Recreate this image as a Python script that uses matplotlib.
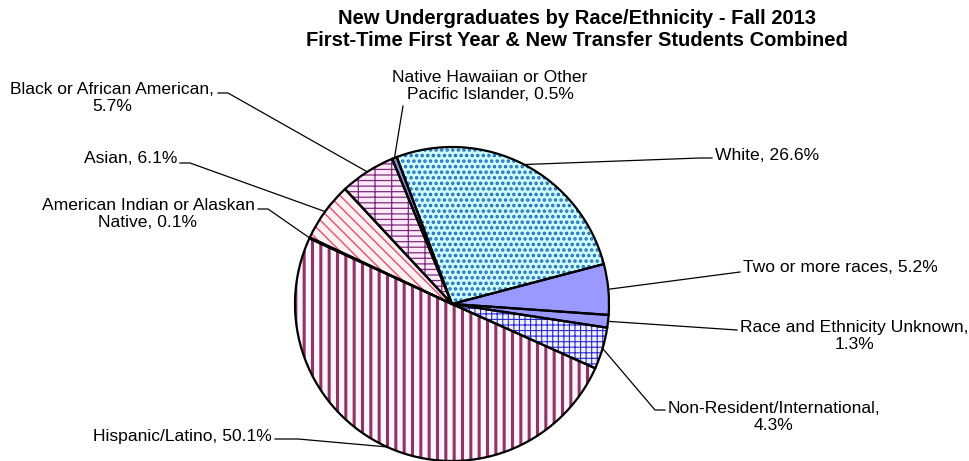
import numpy as np
import matplotlib.pyplot as plt

plt.rcParams['font.family'] = ['Liberation Sans', 'DejaVu Sans']
plt.rcParams['hatch.linewidth'] = 1.0

# data (clockwise from the top-left edge of the "White" slice)
groups = ['White', 'Two or more races', 'Race and Ethnicity Unknown',
          'Non-Resident/International', 'Hispanic/Latino',
          'American Indian or Alaskan Native', 'Asian',
          'Black or African American', 'Native Hawaiian or Other Pacific Islander']
pct = [26.6, 5.2, 1.3, 4.3, 50.1, 0.1, 6.1, 5.7, 0.5]
labels = ['White, 26.6%', 'Two or more races, 5.2%', 'Race and Ethnicity Unknown,\n1.3%',
          'Non-Resident/International,\n4.3%', 'Hispanic/Latino, 50.1%',
          'American Indian or Alaskan\nNative, 0.1%', 'Asian, 6.1%',
          'Black or African American,\n5.7%', 'Native Hawaiian or Other\nPacific Islander, 0.5%']

# styles
faces = ['#CCFFFF', '#9999FF', '#9999FF', '#F0F0FF', '#FFF4FA', '#FF9999', '#FFF0F2', '#FFE8FA', '#8888CC']
hcolors = ['#2468B8', '#9999FF', '#9999FF', '#2B2BCC', '#8E3565', '#FF9999', '#E0507A', '#7A2E7A', '#8888CC']
hatches = ['...', '', '', '+++', '||', '', '\\\\\\', '---|', '']
hlw = [1.7, 1.0, 1.0, 0.8, 2.2, 1.0, 1.0, 0.9, 1.0]

# label layout in pixels: text x, text y, ha, leader points from the text side
layout = [
    (715, 156, 'left', [(712, 158), (700, 158)]),
    (743, 268, 'left', [(740, 272)]),
    (854, 336, 'center', [(737, 330)]),
    (774, 417, 'center', [(665, 410), (655, 410)]),
    (272, 437, 'right', [(275, 439), (298, 439)]),
    (148, 214, 'center', [(258, 209), (268, 209)]),
    (177, 159, 'right', [(180, 163), (190, 163)]),
    (112, 98, 'center', [(218, 93), (228, 93)]),
    (490, 86, 'center', [(403, 106)]),
]

W, H = 970, 461
cx, cy, R = 452, 304, 157


def px(x, y):
    return (x - cx) / R, (cy - y) / R


fig = plt.figure(figsize=(9.7, 4.61), dpi=100)
ax = fig.add_axes([0, 0, 1, 1])

wedges, _ = ax.pie(pct, startangle=110.6, counterclock=False, radius=1,
                   colors=faces, wedgeprops=dict(linewidth=0))
for w, hc, ht, lw in zip(wedges, hcolors, hatches, hlw):
    w.set_edgecolor(hc)
    w.set_hatch(ht)
    if hasattr(w, 'set_hatch_linewidth'):
        w.set_hatch_linewidth(lw)

# black outlines on top
ax.pie(pct, startangle=110.6, counterclock=False, radius=1,
       colors=['none'] * len(pct), wedgeprops=dict(linewidth=1.6, edgecolor='black'))

for w, lab, (tx, ty, ha, pts) in zip(wedges, labels, layout):
    mid = np.deg2rad((w.theta1 + w.theta2) / 2)
    xs = [px(*p)[0] for p in pts] + [np.cos(mid)]
    ys = [px(*p)[1] for p in pts] + [np.sin(mid)]
    ax.plot(xs, ys, color='black', lw=0.9)
    x, y = px(tx, ty)
    ax.text(x, y, lab, ha=ha, va='center', multialignment='center', fontsize=12.6, linespacing=1.2)

ax.set_xlim(-cx / R, (W - cx) / R)
ax.set_ylim((cy - H) / R, cy / R)
ax.axis('off')

fig.text(577 / W, 1 - 30 / H, 'New Undergraduates by Race/Ethnicity - Fall 2013\n'
         'First-Time First Year & New Transfer Students Combined',
         ha='center', va='center', fontsize=14.5, fontweight='bold', linespacing=1.2)

fig.savefig('out.png', dpi=100)
